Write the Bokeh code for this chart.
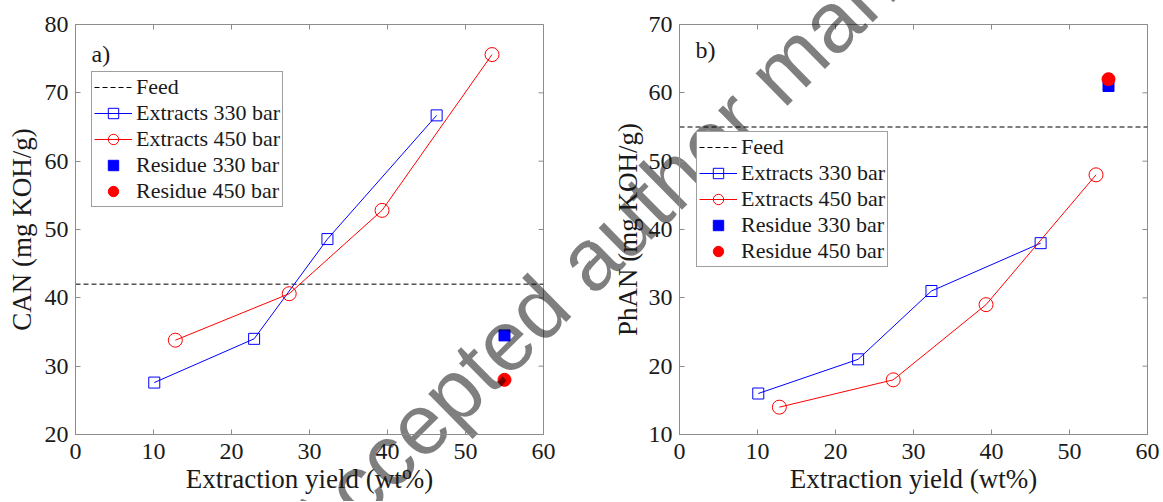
import math
from bokeh.plotting import figure
from bokeh.models import Legend, LegendItem, Label, Range1d
from bokeh.core.properties import value
from bokeh.layouts import row
from bokeh.embed import file_html
from bokeh.resources import INLINE

# ---------------- data ----------------
yield_330 = [10.1, 22.9, 32.3, 46.3]
yield_450 = [12.8, 27.4, 39.3, 53.4]
residue_yield = [55.0]

can_ext_330 = [27.6, 34.0, 48.6, 66.7]
can_ext_450 = [33.8, 40.6, 52.8, 75.6]
can_res_330 = [34.5]
can_res_450 = [28.0]
can_feed = 42.0

phan_ext_330 = [16.0, 21.0, 31.0, 38.0]
phan_ext_450 = [14.0, 18.0, 29.0, 48.0]
phan_res_330 = [61.0]
phan_res_450 = [62.0]
phan_feed = 55.0

x_ticks = [0, 10, 20, 30, 40, 50, 60]
can_ticks = [20, 30, 40, 50, 60, 70, 80]
phan_ticks = [10, 20, 30, 40, 50, 60, 70]

legend_labels = ["Feed", "Extracts 330 bar", "Extracts 450 bar",
                 "Residue 330 bar", "Residue 450 bar"]
panel_tags = ["a)", "b)"]
x_label = "Extraction yield (wt%)"
y_labels = ["CAN (mg KOH/g)", "PhAN (mg KOH/g)"]
WM_TEXT = "Accepted author manuscript"

# ---------------- styling / geometry ----------------
FONT = "Liberation Serif"
TXT = "#1a1a1a"
AX = "#8c8c8c"
BLUE = "#0000ff"
RED = "#ff0000"

H = 501
FW = 468
FIG_X0 = [0, 590]
LEFT = [75, 89]
RIGHT = [47, 15]
TOP = [24, 21]
FH = [410, 414]
TAG_DY = [-16, -12]
LEG_LOC = [(16, 227), (17, 167)]
YLAB_STANDOFF = [5, 3]

# watermark (baseline centre) in page pixels
WM_CX, WM_CY = 680, 167
WM_ANGLE = 44.5
WM_SIZE = "86px"


def make_panel(i, ext330, ext450, res330, res450, feed, yticks):
    ymin, ymax = yticks[0], yticks[-1]
    xmin, xmax = x_ticks[0], x_ticks[-1]
    width = LEFT[i] + FW + RIGHT[i]
    p = figure(width=width, height=H, x_range=Range1d(xmin, xmax),
               y_range=Range1d(ymin, ymax), output_backend="svg",
               toolbar_location=None, min_border_left=LEFT[i],
               min_border_right=RIGHT[i], min_border_top=TOP[i],
               min_border_bottom=H - TOP[i] - FH[i],
               outline_line_color=AX, background_fill_color="white",
               border_fill_color="white")
    p.grid.visible = False

    for ax, ticks in ((p.xaxis[0], x_ticks), (p.yaxis[0], yticks)):
        ax.ticker = ticks
        ax.major_tick_in = 5
        ax.major_tick_out = 0
        ax.minor_tick_in = 0
        ax.minor_tick_out = 0
        ax.axis_line_color = AX
        ax.major_tick_line_color = AX
        ax.major_label_text_font = FONT
        ax.major_label_text_font_size = "24px"
        ax.major_label_text_color = TXT
        ax.axis_label_text_font = FONT
        ax.axis_label_text_font_size = "27px"
        ax.axis_label_text_font_style = "normal"
        ax.axis_label_text_color = TXT
    p.xaxis.axis_label = x_label
    p.xaxis.major_label_standoff = 9
    p.xaxis.axis_label_standoff = 2
    p.yaxis.axis_label = y_labels[i]
    p.yaxis.major_label_standoff = 7
    p.yaxis.axis_label_standoff = YLAB_STANDOFF[i]

    # inward ticks on the top and right edges of the box
    p.scatter(x_ticks, [ymax] * len(x_ticks), marker="dash", size=10,
              angle=math.pi / 2, line_color=AX, line_width=1)
    p.scatter([xmax] * len(yticks), yticks, marker="dash", size=10,
              line_color=AX, line_width=1)

    feed_r = p.line([xmin, xmax], [feed, feed], line_color="black",
                    line_width=1, line_dash="5 3")
    l330 = p.line(yield_330, ext330, line_color=BLUE, line_width=1)
    m330 = p.scatter(yield_330, ext330, marker="square", size=11,
                     line_color=BLUE, fill_color=None, line_width=1)
    l450 = p.line(yield_450, ext450, line_color=RED, line_width=1)
    m450 = p.scatter(yield_450, ext450, marker="circle", size=14,
                     line_color=RED, fill_color=None, line_width=1)
    r330 = p.scatter(residue_yield, res330, marker="square", size=11,
                     line_color=BLUE, fill_color=BLUE)
    r450 = p.scatter(residue_yield, res450, marker="circle", size=13,
                     line_color=RED, fill_color=RED)

    p.add_layout(Label(x=xmin, y=ymax, x_offset=16, y_offset=TAG_DY[i],
                       text=panel_tags[i], text_font=FONT,
                       text_font_size="24px", text_color=TXT,
                       text_baseline="top"))

    # watermark (semi-transparent, spans both panels), drawn as a text glyph
    fx0 = FIG_X0[i] + LEFT[i]
    fy0 = TOP[i]
    wx = xmin + (WM_CX - fx0) / FW * (xmax - xmin)
    wy = ymax - (WM_CY - fy0) / FH[i] * (ymax - ymin)
    p.text(x=[wx], y=[wy], text=[WM_TEXT], angle=WM_ANGLE,
           angle_units="deg", text_font=value("Liberation Sans"),
           text_font_size=value(WM_SIZE), text_color="black",
           text_alpha=0.5, text_align="center", text_baseline="alphabetic",
           level="guide")

    items = [LegendItem(label=legend_labels[0], renderers=[feed_r]),
             LegendItem(label=legend_labels[1], renderers=[l330, m330]),
             LegendItem(label=legend_labels[2], renderers=[l450, m450]),
             LegendItem(label=legend_labels[3], renderers=[r330]),
             LegendItem(label=legend_labels[4], renderers=[r450])]
    leg = Legend(items=items, location=LEG_LOC[i], padding=2, spacing=0,
                 margin=0, glyph_width=38, glyph_height=26, label_height=26,
                 label_standoff=4, label_text_font=FONT,
                 label_text_font_size="22px", label_text_color=TXT,
                 border_line_color="#404040", border_line_width=1,
                 background_fill_color="white", background_fill_alpha=1.0)
    p.add_layout(leg)
    return p


p1 = make_panel(0, can_ext_330, can_ext_450, can_res_330, can_res_450,
                can_feed, can_ticks)
p2 = make_panel(1, phan_ext_330, phan_ext_450, phan_res_330, phan_res_450,
                phan_feed, phan_ticks)

layout = row(p1, p2)
open("out.html", "w").write(file_html(layout, INLINE))
